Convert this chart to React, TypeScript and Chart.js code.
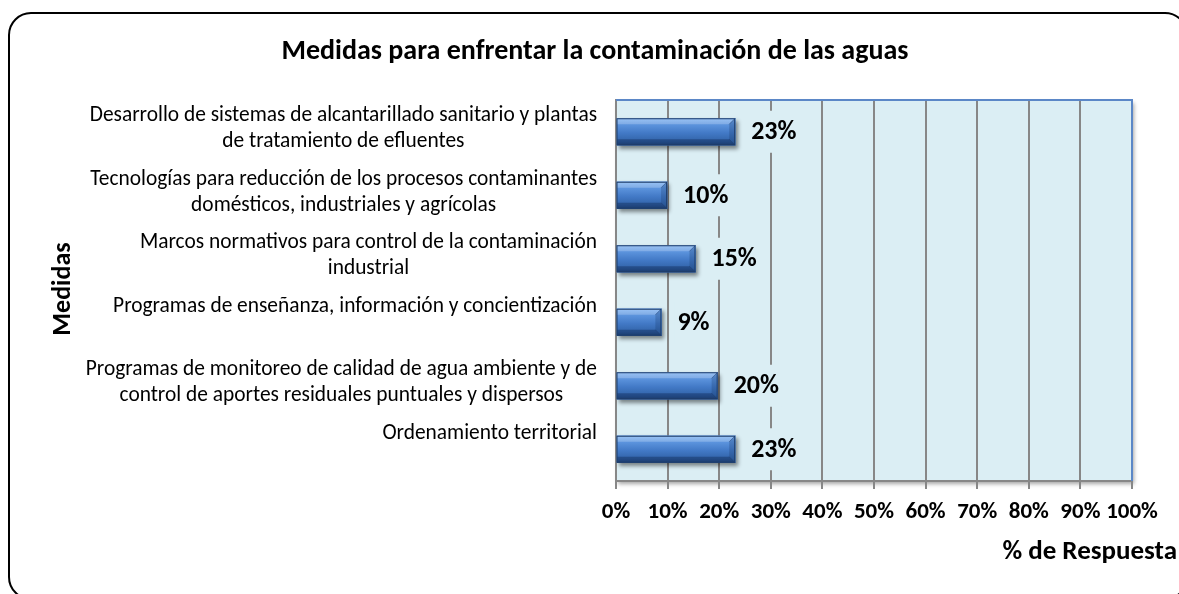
import React, { useEffect, useRef } from "react";
import { Chart, registerables } from "chart.js";

Chart.register(...registerables);

// ---------- data ----------
const categories: string[][] = [
  ["Desarrollo de sistemas de alcantarillado sanitario y plantas", "de tratamiento de efluentes"],
  ["Tecnologías para reducción de los procesos contaminantes", "domésticos, industriales y agrícolas"],
  ["Marcos normativos para control de la contaminación", "industrial"],
  ["Programas de enseñanza, información y concientización"],
  ["Programas de monitoreo de calidad de agua ambiente y de", "control de aportes residuales puntuales y dispersos"],
  ["Ordenamiento territorial"],
];
const values: number[] = [23.1, 9.9, 15.4, 8.8, 19.7, 23.1];
const valueLabels: string[] = ["23%", "10%", "15%", "9%", "20%", "23%"];
const xTickLabels: string[] = ["0%", "10%", "20%", "30%", "40%", "50%", "60%", "70%", "80%", "90%", "100%"];
const chartTitle = "Medidas para enfrentar la contaminación de las aguas";
const yAxisTitle = "Medidas";
const xAxisTitle = "% de Respuesta";

// ---------- styles ----------
const FONT = "Carlito, Lato, 'Open Sans', sans-serif";
const PLOT_BG = "#DBEEF4";
const GRID = "#878787";

const decorPlugin = {
  id: "decor",
  beforeDraw(chart: any) {
    const { ctx, chartArea: a } = chart;
    ctx.save();
    ctx.fillStyle = "#ffffff";
    ctx.fillRect(0, 0, chart.width, chart.height);
    ctx.shadowColor = "rgba(0,0,0,0.35)";
    ctx.shadowBlur = 4;
    ctx.shadowOffsetX = 2;
    ctx.shadowOffsetY = 3;
    ctx.fillStyle = PLOT_BG;
    ctx.fillRect(a.left, a.top, a.right - a.left, a.bottom - a.top);
    ctx.restore();
  },
  beforeDatasetsDraw(chart: any) {
    const { ctx, chartArea: a } = chart;
    ctx.save();
    ctx.strokeStyle = "#5b87c7";
    ctx.lineWidth = 2;
    ctx.beginPath();
    ctx.moveTo(a.left, a.top);
    ctx.lineTo(a.right, a.top);
    ctx.lineTo(a.right, a.bottom);
    ctx.stroke();
    ctx.restore();
  },
  beforeDatasetDraw(chart: any) {
    const ctx = chart.ctx;
    ctx.save();
    ctx.shadowColor = "rgba(0,0,0,0.45)";
    ctx.shadowBlur = 4;
    ctx.shadowOffsetX = 2;
    ctx.shadowOffsetY = 3;
  },
  afterDatasetDraw(chart: any) {
    chart.ctx.restore();
  },
  afterDatasetsDraw(chart: any) {
    const { ctx } = chart;
    const meta = chart.getDatasetMeta(0);
    meta.data.forEach((el: any, i: number) => {
      const p = el.getProps(["x", "y", "base", "height"], true);
      const x0 = Math.min(p.base, p.x);
      const x1 = Math.max(p.base, p.x);
      const y0 = p.y - p.height / 2;
      const y1 = p.y + p.height / 2;
      const b = 6;
      ctx.save();
      const g = ctx.createLinearGradient(0, y0, 0, y1);
      g.addColorStop(0, "#7db2f2");
      g.addColorStop(0.2, "#5f97e0");
      g.addColorStop(0.55, "#4279c6");
      g.addColorStop(0.85, "#3264a9");
      g.addColorStop(1, "#254d84");
      ctx.fillStyle = g;
      ctx.fillRect(x0, y0, x1 - x0, y1 - y0);
      ctx.fillStyle = "rgba(255,255,255,0.22)";
      ctx.beginPath();
      ctx.moveTo(x0, y0);
      ctx.lineTo(x1, y0);
      ctx.lineTo(x1 - b, y0 + b);
      ctx.lineTo(x0, y0 + b);
      ctx.closePath();
      ctx.fill();
      ctx.fillStyle = "rgba(10,30,70,0.35)";
      ctx.beginPath();
      ctx.moveTo(x0, y1);
      ctx.lineTo(x1, y1);
      ctx.lineTo(x1 - b, y1 - b);
      ctx.lineTo(x0, y1 - b);
      ctx.closePath();
      ctx.fill();
      ctx.fillStyle = "rgba(20,50,100,0.25)";
      ctx.beginPath();
      ctx.moveTo(x1, y0);
      ctx.lineTo(x1, y1);
      ctx.lineTo(x1 - b, y1 - b);
      ctx.lineTo(x1 - b, y0 + b);
      ctx.closePath();
      ctx.fill();
      ctx.strokeStyle = "rgba(30,60,110,0.6)";
      ctx.lineWidth = 0.8;
      ctx.beginPath();
      ctx.moveTo(x1, y0);
      ctx.lineTo(x1 - b, y0 + b);
      ctx.moveTo(x1, y1);
      ctx.lineTo(x1 - b, y1 - b);
      ctx.stroke();
      ctx.strokeStyle = "#1f3e6b";
      ctx.lineWidth = 1;
      ctx.strokeRect(x0, y0 + 0.5, x1 - x0 - 0.5, y1 - y0 - 1);
      ctx.restore();

      ctx.save();
      ctx.font = `bold 26px ${FONT}`;
      const txt = valueLabels[i];
      const w = ctx.measureText(txt).width;
      const lx = x1 + 16;
      ctx.fillStyle = PLOT_BG;
      ctx.fillRect(lx - 3, p.y - 21, w + 6, 42);
      ctx.fillStyle = "#000";
      ctx.textAlign = "left";
      ctx.textBaseline = "middle";
      ctx.fillText(txt, lx, p.y + 1);
      ctx.restore();
    });
  },
  afterDraw(chart: any) {
    const { ctx } = chart;
    const yScale = chart.scales.y;
    ctx.save();
    ctx.font = `21.4px ${FONT}`;
    ctx.fillStyle = "#000";
    ctx.textAlign = "center";
    ctx.textBaseline = "middle";
    const rightEdge = 597;
    categories.forEach((lines, i) => {
      const cy = yScale.getPixelForValue(i);
      const bw = Math.max(...lines.map((l) => ctx.measureText(l).width));
      const cx = rightEdge - bw / 2;
      lines.forEach((l, k) => ctx.fillText(l, cx, cy - 16 + k * 26));
    });
    ctx.restore();

    ctx.save();
    ctx.fillStyle = "#000";
    ctx.font = `bold 28px ${FONT}`;
    ctx.textAlign = "center";
    ctx.textBaseline = "middle";
    ctx.fillText(chartTitle, 595, 52);
    ctx.font = `bold 27px ${FONT}`;
    ctx.textAlign = "right";
    ctx.fillText(xAxisTitle, 1177, 552);
    ctx.font = `bold 26px ${FONT}`;
    ctx.translate(63, 289);
    ctx.rotate(-Math.PI / 2);
    ctx.textAlign = "center";
    ctx.fillText(yAxisTitle, 0, 0);
    ctx.restore();

    ctx.save();
    ctx.strokeStyle = "#000";
    ctx.lineWidth = 2;
    ctx.beginPath();
    (ctx as any).roundRect(9, 13, 1178, 586, 22);
    ctx.stroke();
    ctx.restore();
  },
};

export default function App() {
  const ref = useRef<HTMLCanvasElement>(null);
  useEffect(() => {
    document.body.style.margin = "0";
    const chart = new Chart(ref.current as HTMLCanvasElement, {
      type: "bar",
      data: {
        labels: categories,
        datasets: [
          {
            data: values,
            backgroundColor: "#4279c6",
            borderWidth: 0,
            barThickness: 27,
          },
        ],
      },
      options: {
        indexAxis: "y",
        animation: false,
        responsive: false,
        devicePixelRatio: 1,
        layout: { padding: { top: 100, right: 47, bottom: 0, left: 0 } },
        plugins: {
          legend: { display: false },
          title: { display: false },
          tooltip: { enabled: false },
        },
        scales: {
          x: {
            min: 0,
            max: 100,
            afterFit: (s: any) => {
              s.height = 113;
            },
            ticks: {
              stepSize: 10,
              color: "#000",
              padding: 9,
              maxRotation: 0,
              autoSkip: false,
              font: { family: FONT, size: 23, weight: "bold" },
              callback: (_v: any, i: number) => xTickLabels[i],
            },
            grid: { color: GRID, lineWidth: 2, tickLength: 8, drawTicks: true },
            border: { display: true, color: GRID, width: 2 },
          },
          y: {
            afterFit: (s: any) => {
              s.width = 616;
            },
            ticks: { display: false },
            grid: { display: false },
            border: { display: true, color: GRID, width: 2 },
          },
        },
      },
      plugins: [decorPlugin],
    } as any);
    return () => chart.destroy();
  }, []);
  return (
    <div style={{ position: "absolute", left: 0, top: 0, width: 1179, height: 594 }}>
      <canvas ref={ref} width={1179} height={594} style={{ display: "block", width: 1179, height: 594 }} />
    </div>
  );
}
